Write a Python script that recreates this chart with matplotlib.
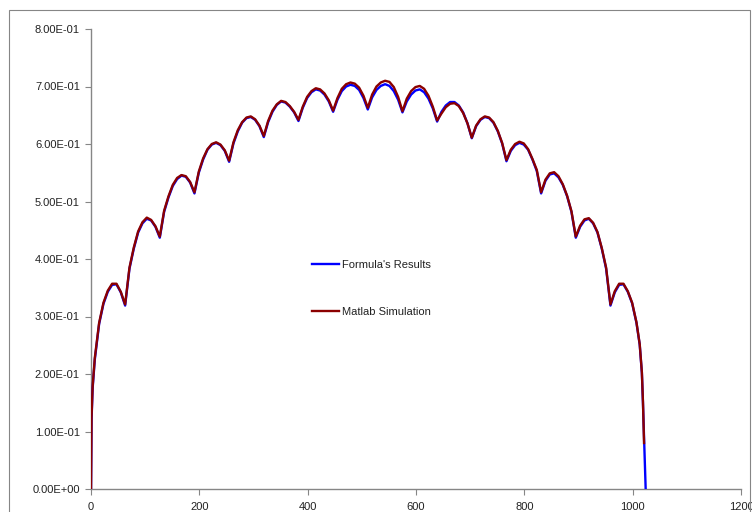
import matplotlib
matplotlib.use("Agg")
import matplotlib.pyplot as plt
import matplotlib.ticker as mticker
from matplotlib.patches import Rectangle

# ── data ────────────────────────────────────────────────────
x_formula = [0, 1, 3, 7, 15, 23, 31, 39, 47, 55, 63,
             71, 79, 87, 95, 103, 111, 119, 127,
             135, 143, 151, 159, 167, 175, 183, 191,
             199, 207, 215, 223, 231, 239, 247, 255,
             263, 271, 279, 287, 295, 303, 311, 319,
             327, 335, 343, 351, 359, 367, 375, 383,
             391, 399, 407, 415, 423, 431, 439, 447,
             455, 463, 471, 479, 487, 495, 503, 511,
             519, 527, 535, 543, 551, 559, 567, 575,
             583, 591, 599, 607, 615, 623, 631, 639,
             647, 655, 663, 671, 679, 687, 695, 703,
             711, 719, 727, 735, 743, 751, 759, 767,
             775, 783, 791, 799, 807, 815, 823, 831,
             839, 847, 855, 863, 871, 879, 887, 895,
             903, 911, 919, 927, 935, 943, 951, 959,
             967, 975, 983, 991, 999, 1007, 1013, 1017, 1019, 1021, 1022, 1024]

y_formula = [0.0, 0.12, 0.175, 0.225, 0.287, 0.322, 0.343, 0.355, 0.356, 0.342, 0.319,
             0.383, 0.418, 0.446, 0.462, 0.470, 0.467, 0.456, 0.437,
             0.482, 0.507, 0.527, 0.539, 0.545, 0.543, 0.533, 0.514,
             0.550, 0.573, 0.590, 0.599, 0.602, 0.598, 0.588, 0.569,
             0.601, 0.622, 0.637, 0.645, 0.647, 0.642, 0.631, 0.612,
             0.638, 0.656, 0.668, 0.674, 0.672, 0.665, 0.655, 0.640,
             0.663, 0.680, 0.690, 0.695, 0.693, 0.686, 0.674, 0.656,
             0.677, 0.692, 0.700, 0.703, 0.701, 0.694, 0.680, 0.660,
             0.681, 0.694, 0.701, 0.704, 0.701, 0.692, 0.677, 0.655,
             0.674, 0.686, 0.693, 0.695, 0.690, 0.679, 0.662, 0.639,
             0.656, 0.667, 0.673, 0.673, 0.667, 0.655, 0.636, 0.610,
             0.631, 0.642, 0.647, 0.645, 0.637, 0.622, 0.601, 0.570,
             0.588, 0.598, 0.602, 0.599, 0.590, 0.573, 0.553, 0.514,
             0.536, 0.547, 0.549, 0.542, 0.529, 0.509, 0.482, 0.437,
             0.456, 0.467, 0.470, 0.462, 0.446, 0.418, 0.383, 0.319,
             0.342, 0.355, 0.356, 0.343, 0.323, 0.289, 0.251, 0.202, 0.150, 0.090, 0.060, 0.0]

x_matlab = [0, 1, 3, 7, 15, 23, 31, 39, 47, 55, 63,
            71, 79, 87, 95, 103, 111, 119, 127,
            135, 143, 151, 159, 167, 175, 183, 191,
            199, 207, 215, 223, 231, 239, 247, 255,
            263, 271, 279, 287, 295, 303, 311, 319,
            327, 335, 343, 351, 359, 367, 375, 383,
            391, 399, 407, 415, 423, 431, 439, 447,
            455, 463, 471, 479, 487, 495, 503, 511,
            519, 527, 535, 543, 551, 559, 567, 575,
            583, 591, 599, 607, 615, 623, 631, 639,
            647, 655, 663, 671, 679, 687, 695, 703,
            711, 719, 727, 735, 743, 751, 759, 767,
            775, 783, 791, 799, 807, 815, 823, 831,
            839, 847, 855, 863, 871, 879, 887, 895,
            903, 911, 919, 927, 935, 943, 951, 959,
            967, 975, 983, 991, 999, 1007, 1013, 1017, 1019, 1021]

y_matlab = [0.0, 0.125, 0.178, 0.228, 0.289, 0.324, 0.345, 0.357, 0.357, 0.343, 0.321,
            0.385, 0.420, 0.448, 0.464, 0.472, 0.468, 0.457, 0.439,
            0.484, 0.509, 0.529, 0.541, 0.546, 0.544, 0.534, 0.516,
            0.552, 0.575, 0.591, 0.600, 0.603, 0.599, 0.589, 0.571,
            0.603, 0.624, 0.638, 0.646, 0.648, 0.643, 0.632, 0.614,
            0.640, 0.658, 0.669, 0.675, 0.673, 0.666, 0.656, 0.642,
            0.665, 0.682, 0.692, 0.697, 0.695, 0.688, 0.676, 0.658,
            0.680, 0.696, 0.704, 0.707, 0.705, 0.698, 0.684, 0.663,
            0.686, 0.700, 0.707, 0.710, 0.708, 0.699, 0.682, 0.657,
            0.679, 0.692, 0.699, 0.701, 0.696, 0.684, 0.665, 0.641,
            0.653, 0.664, 0.670, 0.671, 0.666, 0.654, 0.636, 0.611,
            0.632, 0.643, 0.648, 0.646, 0.638, 0.623, 0.602, 0.572,
            0.590, 0.600, 0.604, 0.601, 0.591, 0.574, 0.555, 0.516,
            0.538, 0.549, 0.551, 0.544, 0.530, 0.510, 0.483, 0.439,
            0.458, 0.469, 0.471, 0.463, 0.447, 0.419, 0.385, 0.321,
            0.344, 0.357, 0.357, 0.344, 0.324, 0.290, 0.252, 0.203, 0.152, 0.080]

x_ticks = [0, 200, 400, 600, 800, 1000, 1200]
y_ticks = [0.0, 0.1, 0.2, 0.3, 0.4, 0.5, 0.6, 0.7, 0.8]
labels = ["Formula's Results", "Matlab Simulation"]

BLUE = "#0000FF"
DARK_RED = "#8B0000"
AXIS_GRAY = "#868686"
TEXT = "#222222"

plt.rcParams["font.family"] = ["Liberation Sans", "DejaVu Sans"]

fig = plt.figure(figsize=(7.52, 5.12), dpi=100)
fig.patch.set_facecolor("white")

# outer chart frame (Excel chart area border)
fig.patches.append(Rectangle((9 / 752, -0.05), 741 / 752, 1 - 10 / 512 + 0.05,
                             transform=fig.transFigure, fill=False,
                             edgecolor=AXIS_GRAY, linewidth=0.8))

ax = fig.add_axes([91 / 752, 23 / 512, 650 / 752, 460 / 512])
ax.plot(x_formula, y_formula, color=BLUE, linewidth=1.7, label=labels[0], zorder=3)
ax.plot(x_matlab, y_matlab, color=DARK_RED, linewidth=1.7, label=labels[1], zorder=4)

ax.set_xlim(0, 1200)
ax.set_ylim(0, 0.8)
ax.set_xticks(x_ticks)
ax.set_yticks(y_ticks)
ax.yaxis.set_major_formatter(mticker.FuncFormatter(lambda v, p: f"{v:.2E}"))

for side in ["top", "right"]:
    ax.spines[side].set_visible(False)
for side in ["left", "bottom"]:
    ax.spines[side].set_color(AXIS_GRAY)
    ax.spines[side].set_linewidth(1.0)
ax.spines["bottom"].set_zorder(2)

ax.tick_params(axis="y", direction="out", length=4, color=AXIS_GRAY,
               labelsize=8, labelcolor=TEXT, pad=4)
ax.tick_params(axis="x", direction="out", length=4, color=AXIS_GRAY,
               labelsize=8, labelcolor=TEXT, pad=5)

leg = ax.legend(loc="upper left", bbox_to_anchor=(312 / 752, 1 - 260 / 512),
                bbox_transform=fig.transFigure, frameon=False, fontsize=8,
                handlelength=2.4, handletextpad=0.3, labelspacing=3.35,
                borderpad=0, borderaxespad=0)
for t in leg.get_texts():
    t.set_color(TEXT)

fig.savefig("out.png", dpi=100, facecolor="white")
